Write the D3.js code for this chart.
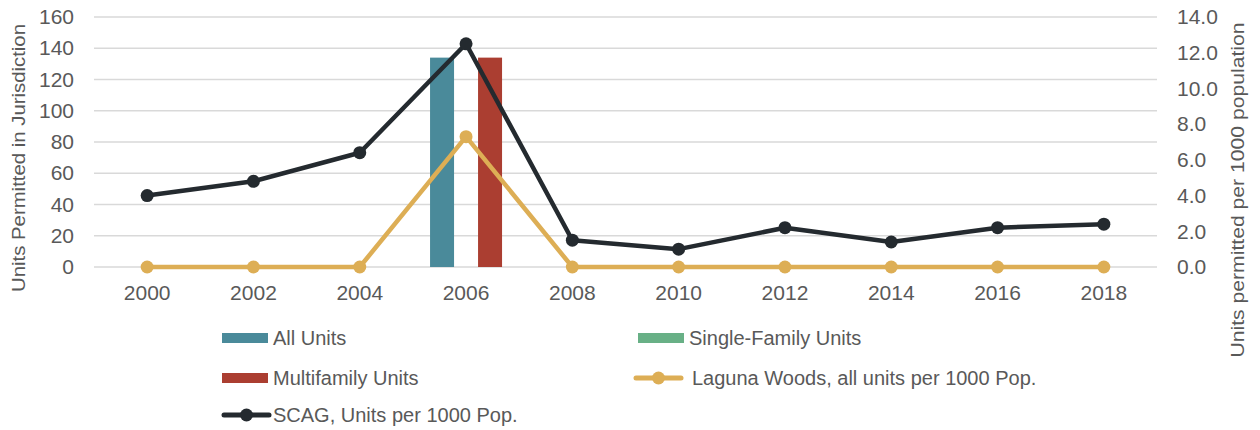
<!DOCTYPE html>
<html lang="en">
<head>
  <meta charset="UTF-8" />
  <script src="https://unpkg.com/d3@7/dist/d3.min.js"></script>
  <title>Units permitted</title>
  <style>
    body { margin: 0; background: #fff; }
    text { font-family: "Liberation Sans", Arial, sans-serif; fill: #595959; }
  </style>
</head>
<body>
  <svg width="1260" height="430"></svg>
  <script>
    const years = ["2000", "2002", "2004", "2006", "2008", "2010", "2012", "2014", "2016", "2018"];
    const allUnits = [0, 0, 0, 134, 0, 0, 0, 0, 0, 0];
    const singleFamily = [0, 0, 0, 0, 0, 0, 0, 0, 0, 0];
    const multiFamily = [0, 0, 0, 134, 0, 0, 0, 0, 0, 0];
    const laguna = [0, 0, 0, 7.3, 0, 0, 0, 0, 0, 0];
    const scag = [4.0, 4.8, 6.4, 12.5, 1.5, 1.0, 2.2, 1.4, 2.2, 2.4];
    const leftTicks = [0, 20, 40, 60, 80, 100, 120, 140, 160];
    const rightTicks = [0, 2, 4, 6, 8, 10, 12, 14];

    const colors = { all: "#4a8a9a", single: "#68b086", multi: "#ab3e31", laguna: "#ddae55", scag: "#242a2f" };

    const svg = d3.select("svg");
    const plotL = 94, plotR = 1157, plotT = 17, plotB = 267;

    const x = d3.scaleBand().domain(years).range([plotL, plotR]);
    const yL = d3.scaleLinear().domain([0, 160]).range([plotB, plotT]);
    const yR = d3.scaleLinear().domain([0, 14]).range([plotB, plotT]);
    const bars = d3.scaleBand().domain(["all", "single", "multi"]).range([0, 72]);
    const cx = d => x(d) + x.bandwidth() / 2;

    // gridlines
    svg.append("g").selectAll("line").data(leftTicks).join("line")
      .attr("x1", plotL).attr("x2", plotR)
      .attr("y1", d => yL(d)).attr("y2", d => yL(d))
      .attr("stroke", "#d9d9d9").attr("stroke-width", 1.5);

    // axes
    const axL = svg.append("g").attr("transform", `translate(${plotL},0)`)
      .call(d3.axisLeft(yL).tickValues(leftTicks).tickSize(0).tickPadding(20));
    const axR = svg.append("g").attr("transform", `translate(${plotR},0)`)
      .call(d3.axisRight(yR).tickValues(rightTicks).tickFormat(d3.format(".1f")).tickSize(0).tickPadding(20));
    const axB = svg.append("g").attr("transform", `translate(0,${plotB})`)
      .call(d3.axisBottom(x).tickSize(0).tickPadding(18));
    [axL, axR, axB].forEach(a => {
      a.select(".domain").remove();
      a.selectAll("text").attr("font-size", 21).attr("fill", "#595959")
        .style("font-family", "'Liberation Sans', Arial, sans-serif");
    });

    // bars
    const series = [["all", allUnits], ["single", singleFamily], ["multi", multiFamily]];
    series.forEach(([key, vals]) => {
      svg.append("g").selectAll("rect").data(years.map((y, i) => ({ y, v: vals[i] }))).join("rect")
        .attr("x", d => x(d.y) + x.bandwidth() / 2 - 36 + bars(key))
        .attr("width", bars.bandwidth())
        .attr("y", d => yL(d.v))
        .attr("height", d => plotB - yL(d.v))
        .attr("fill", colors[key]);
    });

    // lines
    const drawLine = (vals, color) => {
      const pts = years.map((y, i) => [cx(y), yR(vals[i])]);
      svg.append("path").attr("d", d3.line()(pts))
        .attr("fill", "none").attr("stroke", color).attr("stroke-width", 4.5).attr("stroke-linejoin", "round");
      svg.append("g").selectAll("circle").data(pts).join("circle")
        .attr("cx", d => d[0]).attr("cy", d => d[1]).attr("r", 6.5).attr("fill", color);
    };
    drawLine(laguna, colors.laguna);
    drawLine(scag, colors.scag);

    // axis titles
    svg.append("text").attr("transform", "translate(25,158) rotate(-90)")
      .attr("text-anchor", "middle").attr("font-size", 18.5)
      .attr("textLength", 268).attr("lengthAdjust", "spacingAndGlyphs")
      .text("Units Permitted in Jurisdiction");
    svg.append("text").attr("transform", "translate(1244,190) rotate(-90)")
      .attr("text-anchor", "middle").attr("font-size", 18.5)
      .attr("textLength", 335).attr("lengthAdjust", "spacingAndGlyphs")
      .text("Units permitted per 1000 population");

    // legend
    const leg = svg.append("g");
    const legItems = [
      { label: "All Units", type: "rect", color: colors.all, x: 222, y: 338 },
      { label: "Single-Family Units", type: "rect", color: colors.single, x: 638, y: 338 },
      { label: "Multifamily Units", type: "rect", color: colors.multi, x: 222, y: 378 },
      { label: "Laguna Woods, all units per 1000 Pop.", type: "line", color: colors.laguna, x: 634, y: 378 },
      { label: "SCAG, Units per 1000 Pop.", type: "line", color: colors.scag, x: 222, y: 415 }
    ];
    legItems.forEach(d => {
      const g = leg.append("g").attr("transform", `translate(${d.x},${d.y})`);
      if (d.type === "rect") {
        g.append("rect").attr("x", 0).attr("y", -5).attr("width", 46).attr("height", 10).attr("fill", d.color);
        g.append("text").attr("x", 51).attr("y", 7).attr("font-size", 20).text(d.label);
      } else {
        g.append("line").attr("x1", 2).attr("x2", 47).attr("stroke", d.color).attr("stroke-width", 5).attr("stroke-linecap", "round");
        g.append("circle").attr("cx", 24.5).attr("r", 6.5).attr("fill", d.color);
        g.append("text").attr("x", d.color === colors.laguna ? 58 : 51).attr("y", 7).attr("font-size", 20).text(d.label);
      }
    });
  </script>
</body>
</html>
